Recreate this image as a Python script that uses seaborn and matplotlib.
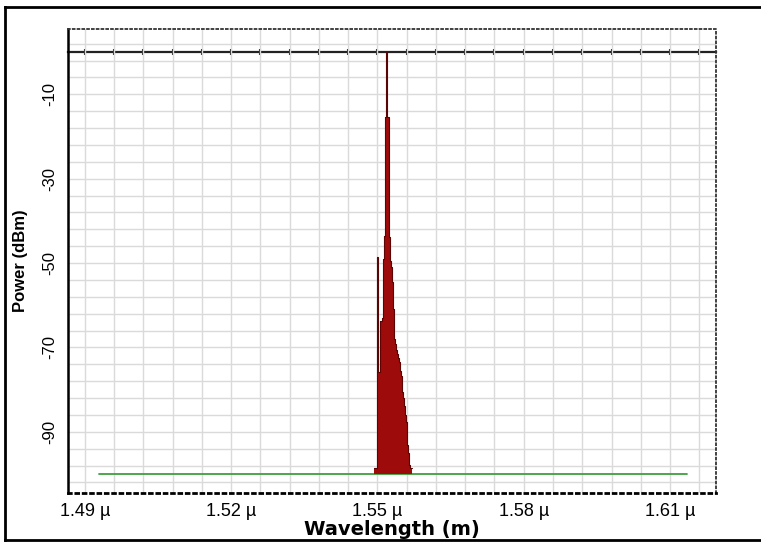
import numpy as np
import pandas as pd
import matplotlib
matplotlib.use("Agg")
import matplotlib.pyplot as plt
import seaborn as sns
from matplotlib.lines import Line2D

# ---------------- data ----------------
wavelength_um = [1.5494, 1.5496, 1.5498, 1.5500, 1.5502, 1.5504, 1.5506, 1.5508,
                 1.5510, 1.5512, 1.5514, 1.5516, 1.5518, 1.5520, 1.5522, 1.5524,
                 1.5526, 1.5528, 1.5530, 1.5532, 1.5534, 1.5536, 1.5538, 1.5540,
                 1.5542, 1.5544, 1.5546, 1.5548, 1.5550, 1.5552, 1.5554, 1.5556,
                 1.5558, 1.5560, 1.5562, 1.5564, 1.5566, 1.5568, 1.5570]
power_dbm = [-98.5, -98.5, -98.5, -48.6, -75.8, -75.8, -63.7, -63.7,
             -63.0, -49.0, -43.6, -15.4, 0.0, -15.4, -15.4, -43.8,
             -49.5, -51.0, -54.5, -61.0, -65.0, -68.0, -69.2, -70.5,
             -71.6, -72.5, -73.4, -75.5, -76.7, -80.5, -82.0, -83.8,
             -86.0, -87.6, -93.2, -95.0, -97.9, -98.5, -98.5]
noise_wl_um = [1.4929, 1.6135]
noise_dbm = [-100.0, -100.0]
floor_dbm = -100.0
ref_level_dbm = 0.0

x_ticks = [1.49, 1.52, 1.55, 1.58, 1.61]
x_labels = ["1.49 \u00b5", "1.52 \u00b5", "1.55 \u00b5", "1.58 \u00b5", "1.61 \u00b5"]
x_minor = np.arange(1.49, 1.6165, 0.006)
y_ticks = [-10, -30, -50, -70, -90]
y_labels = ["-10", "-30", "-50", "-70", "-90"]
y_minor = np.arange(-102, 3, 4)
x_lim = (1.48656, 1.61942)
y_lim = (-104.5, 5.48)

spec = pd.DataFrame({"wl": wavelength_um, "p": power_dbm})
noise = pd.DataFrame({"wl": noise_wl_um, "p": noise_dbm})

# ---------------- figure ----------------
sns.set_style("white")
plt.rcParams["font.family"] = ["Liberation Sans", "DejaVu Sans"]
plt.rcParams["text.color"] = "black"
plt.rcParams["axes.labelcolor"] = "black"
plt.rcParams["xtick.labelcolor"] = "black"
plt.rcParams["ytick.labelcolor"] = "black"

fig = plt.figure(figsize=(7.61, 5.42), dpi=100)
ax = fig.add_axes([68 / 761, 1 - 493 / 542, (716 - 68) / 761, (493 - 29) / 542])
ax.set_xlim(*x_lim)
ax.set_ylim(*y_lim)

# grid
ax.set_xticks(x_ticks, x_labels)
ax.set_xticks(x_minor, minor=True)
ax.set_yticks(y_ticks, y_labels)
ax.set_yticks(y_minor, minor=True)
ax.grid(which="both", color="#dadada", lw=1.0, zorder=0)
ax.set_axisbelow(True)

# noise floor
sns.lineplot(data=noise, x="wl", y="p", ax=ax, color="#3f9f3f", lw=1.3, zorder=2)

# spectrum
ax.fill_between(spec["wl"], floor_dbm, spec["p"], step="mid",
                color="#9e0b0b", lw=0, zorder=3)
sns.lineplot(data=spec, x="wl", y="p", ax=ax, drawstyle="steps-mid",
             color="#5a0404", lw=0.8, zorder=4)

# reference line at 0 dBm with ticks
loc = (ref_level_dbm - y_lim[0]) / (y_lim[1] - y_lim[0])
sec = ax.secondary_xaxis(loc)
sec.set_xticks(x_minor)
sec.tick_params(axis="x", direction="inout", length=5, width=1.5,
                color="#222222", labeltop=False, labelbottom=False)
for s in sec.spines.values():
    s.set_linewidth(1.6)
    s.set_color("#222222")

# spines
ax.spines["left"].set_linewidth(1.8)
ax.spines["left"].set_color("black")
ax.spines["bottom"].set_linewidth(2.0)
ax.spines["bottom"].set_linestyle(":")
ax.spines["bottom"].set_color("black")
for side in ("top", "right"):
    ax.spines[side].set_linewidth(1.3)
    ax.spines[side].set_linestyle(":")
    ax.spines[side].set_color("#333333")

# ticks
ax.tick_params(axis="x", which="major", direction="out", length=4.5, width=1,
               color="#bbbbbb", pad=3, labelsize=13, labelcolor="black")
ax.tick_params(axis="x", which="minor", direction="inout", length=3.5, width=2.5,
               color="black")
ax.tick_params(axis="y", which="major", direction="inout", length=12, width=1.5,
               color="black", pad=2, labelsize=12, labelrotation=90,
               labelcolor="black")
ax.tick_params(axis="y", which="minor", direction="inout", length=6.5, width=1.5,
               color="black")
for lab in ax.get_yticklabels():
    lab.set_va("center")

# labels
ax.set_xlabel("Wavelength (m)", fontsize=14, fontweight="bold",
              family=["DejaVu Sans"], color="black")
ax.xaxis.set_label_coords(0.5, -0.058)
ax.xaxis.label.set_va("top")
ax.set_ylabel("Power (dBm)", fontsize=12, fontweight="bold", color="black")
ax.yaxis.set_label_coords(-0.062, 0.5)

# outer frame: left, top and bottom edges only (right edge is off the canvas)
fx0, fy0, fy1 = 5 / 761, 2 / 542, 1 - 6.5 / 542
for xs, ys in (([fx0, fx0], [fy0, fy1]), ([fx0, 1.0], [fy1, fy1]),
               ([fx0, 1.0], [fy0, fy0])):
    fig.add_artist(Line2D(xs, ys, transform=fig.transFigure, color="black",
                          lw=2.0, solid_capstyle="projecting"))

fig.savefig("out.png", dpi=100)
